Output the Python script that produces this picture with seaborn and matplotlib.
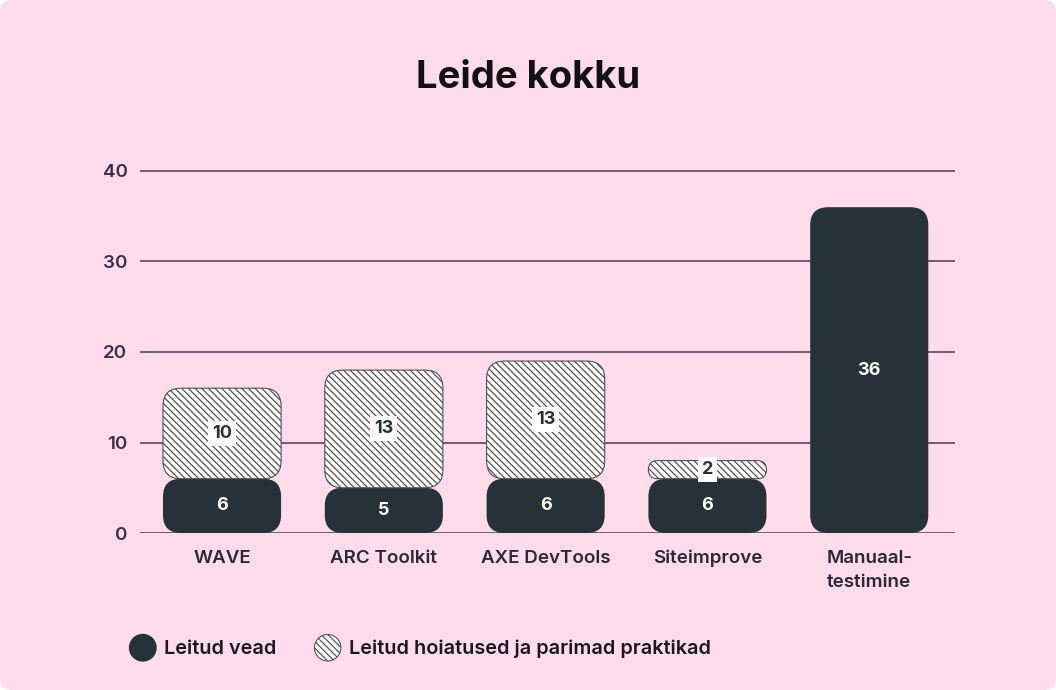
import seaborn as sns
import matplotlib.pyplot as plt
import matplotlib.patches as mpatches
from matplotlib.legend_handler import HandlerPatch
import pandas as pd

# Andmed
tools = ['WAVE', 'ARC Toolkit', 'AXE DevTools', 'Siteimprove', 'Manuaal-\ntestimine']
errors = [6, 5, 6, 6, 36]
warnings = [10, 13, 13, 2, 0]

BG = '#FEDCEB'
DARK = '#263238'
GRID = '#6f5b78'
TICK = '#3b2f4b'
HATCH = '\\' * 5

sns.set_theme(style='white')
plt.rcParams['font.family'] = ['Inter', 'DejaVu Sans']
plt.rcParams['hatch.linewidth'] = 0.9

fig = plt.figure(figsize=(10.56, 6.9), dpi=100, facecolor='white')
# roosa taust ümarate nurkadega
fig.patches.append(mpatches.FancyBboxPatch(
    (0, 0), 1, 1, boxstyle='round,pad=0,rounding_size=%f' % (12 / 1056),
    mutation_aspect=1056 / 690, transform=fig.transFigure,
    facecolor=BG, edgecolor='none', zorder=-10))

# telgede asukoht pikslites: x 140..955, y=0 -> 533, 9.05 px ühiku kohta
ymax = 40.5
ax = fig.add_axes([140 / 1056, (690 - 533) / 690, 815 / 1056, ymax * 9.05 / 690])
ax.set_facecolor('none')

df = pd.DataFrame({'tool': tools, 'errors': errors, 'warnings': warnings})

sns.barplot(data=df, x='tool', y='errors', color=DARK, width=0.73, ax=ax,
            saturation=1)
n_err = len(ax.patches)
sns.barplot(data=df, x='tool', y='warnings', bottom=df['errors'], color='white',
            width=0.73, ax=ax, saturation=1)

ax.set_xlim(-0.507, 4.53)
ax.set_ylim(0, ymax)

# ristkülikud -> ümarad kastid
aspect = 161.75 / 9.05
r_px = 18 / 161.75
old = list(ax.patches)
for i, p in enumerate(old):
    x, y = p.get_x(), p.get_y()
    w, h = p.get_width(), p.get_height()
    p.remove()
    if h <= 0:
        continue
    r = min(r_px, h / aspect / 2, w / 2)
    if i < n_err:
        kw = dict(facecolor=DARK, edgecolor='none', linewidth=0)
    else:
        kw = dict(facecolor='white', edgecolor='#505050', linewidth=0.8,
                  hatch=HATCH)
    ax.add_patch(mpatches.FancyBboxPatch(
        (x, y), w, h, boxstyle='round,pad=0,rounding_size=%f' % r,
        mutation_aspect=aspect, zorder=3, **kw))

# väärtuste sildid
for i, (e, wv) in enumerate(zip(errors, warnings)):
    ax.text(i, e / 2, str(e), ha='center', va='center', color='white',
            fontsize=13, fontweight='bold', zorder=5)
    if wv > 0:
        ax.text(i, e + wv / 2, str(wv), ha='center', va='center', color=DARK,
                fontsize=13, fontweight='bold', zorder=5,
                bbox=dict(boxstyle='square,pad=0.22', facecolor='white',
                          edgecolor='none'))

ax.set_yticks([0, 10, 20, 30, 40])
ax.yaxis.grid(True, color=GRID, linewidth=1.4)
ax.set_axisbelow(True)
for s in ax.spines.values():
    s.set_visible(False)
ax.tick_params(axis='both', length=0, labelsize=13.5, colors=TICK)
ax.tick_params(axis='y', pad=9)
ax.tick_params(axis='x', pad=12)
for lbl in ax.get_xticklabels() + ax.get_yticklabels():
    lbl.set_fontweight('semibold')
for lbl in ax.get_xticklabels():
    lbl.set_color('#2a2a35')
    lbl.set_linespacing(1.55)
ax.set_xlabel('')
ax.set_ylabel('')

fig.text(528 / 1056, 1 - 78 / 690, 'Leide kokku', ha='center', va='center',
         fontsize=27.5, fontweight='bold', color='#111111')


def ellipse(legend, orig_handle, xdescent, ydescent, width, height, fontsize):
    return mpatches.Ellipse((width / 2 - xdescent, height / 2 - ydescent),
                            width=height * 1.3, height=height * 1.3)


handles = [
    mpatches.Patch(facecolor=DARK, edgecolor=DARK, label='Leitud vead'),
    mpatches.Patch(facecolor='white', edgecolor='#555555', hatch=HATCH,
                   linewidth=0.8, label='Leitud hoiatused ja parimad praktikad'),
]
leg = fig.legend(handles=handles, loc='center left',
                 bbox_to_anchor=(113 / 1056, 1 - 648 / 690), ncol=2,
                 frameon=False, fontsize=14.3, handlelength=1.2,
                 handleheight=1.2, handletextpad=0.45, columnspacing=2.0,
                 handler_map={mpatches.Patch: HandlerPatch(patch_func=ellipse)})
for t in leg.get_texts():
    t.set_color('#1a1a1a')
    t.set_fontweight('semibold')

fig.savefig('out.png', dpi=100, facecolor=fig.get_facecolor())
